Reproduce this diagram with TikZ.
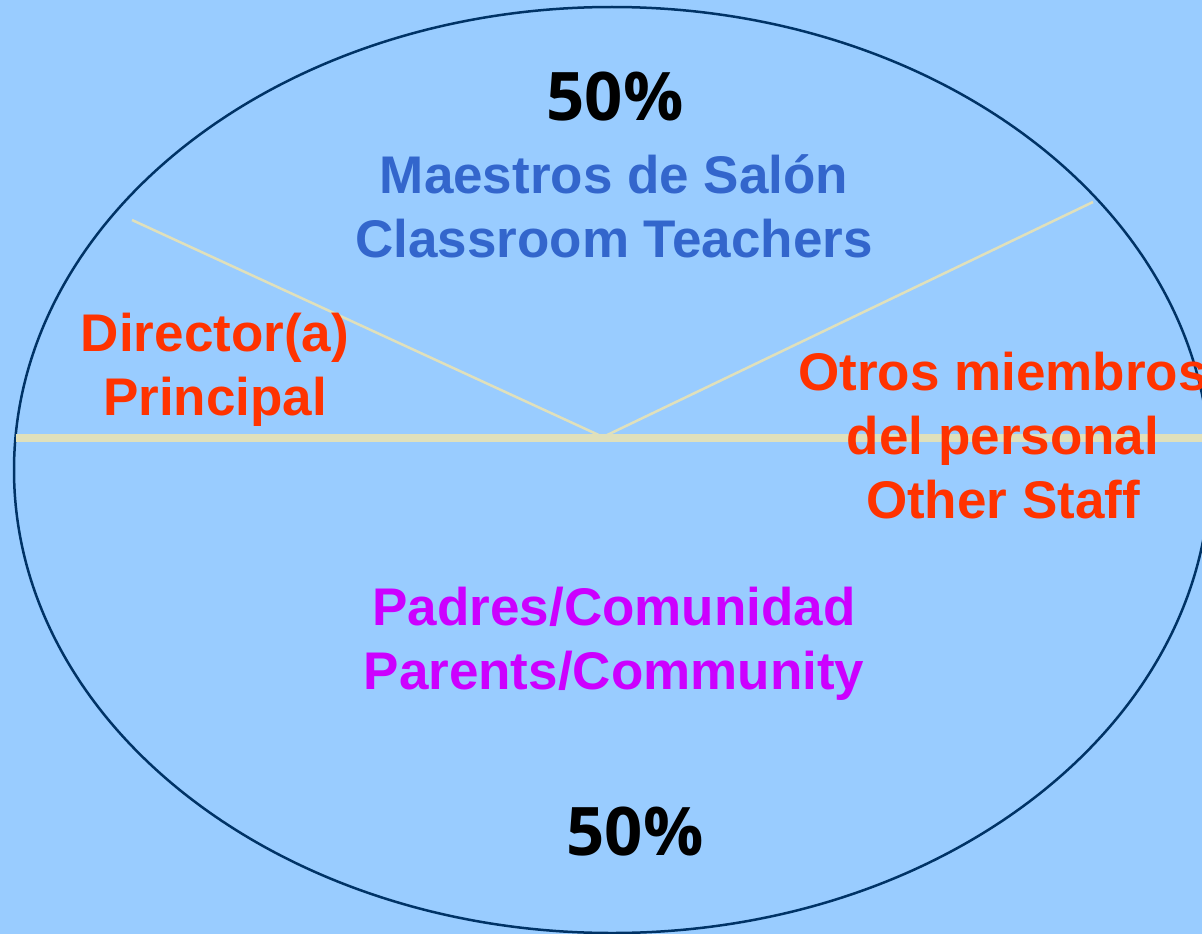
\documentclass[tikz,border=0pt]{standalone}
\usepackage{fontspec}
\setmainfont{Liberation Sans}
\newfontfamily\pctfont{Open Sans}
\definecolor{bg}{HTML}{99CCFF}
\definecolor{rim}{HTML}{003366}
\definecolor{divider}{HTML}{E0E0BB}
\definecolor{teach}{HTML}{3366CC}
\definecolor{staff}{HTML}{FF3300}
\definecolor{parent}{HTML}{CC00FF}
\tikzset{
  lbl/.style={font=\bfseries\fontsize{53}{64}\selectfont, align=center, inner sep=0pt},
  pct/.style={font=\pctfont\bfseries\fontsize{67}{80}\selectfont, inner sep=0pt, text=black},
  thinline/.style={draw=divider, line width=2.5pt},
  thickline/.style={draw=divider, line width=8pt}
}
\begin{document}
\begin{tikzpicture}[x=1pt,y=-1pt]
\fill[bg] (0,0) rectangle (1202,934);
\useasboundingbox (0,0) rectangle (1202,934);
\draw[rim, line width=2.5pt] (612,470) ellipse [x radius=598, y radius=463];
\coordinate (hub) at (603,437);
\coordinate (lt) at (132,220);
\coordinate (rt) at (1093,202);
\coordinate (hl) at (16,438);
\coordinate (hr) at (1210,438);
\draw[thickline] (hl) -- (hr);
\draw[thinline] (lt) -- (hub) -- (rt);
\node[pct] (ptop) at (615,97) {50\%};
\node[lbl, text=teach] (teachers) at (614,206) {Maestros de Salón\\Classroom Teachers};
\node[lbl, text=staff] (principal) at (215,370) {Director(a)\\Principal};
\node[lbl, text=staff] (other) at (1003,436) {Otros miembros\\del personal\\Other Staff};
\node[lbl, text=parent] (parents) at (614,644) {Padres/Comunidad\\Parents/Community};
\node[pct] (pbot) at (635,832) {50\%};
\end{tikzpicture}
\end{document}
